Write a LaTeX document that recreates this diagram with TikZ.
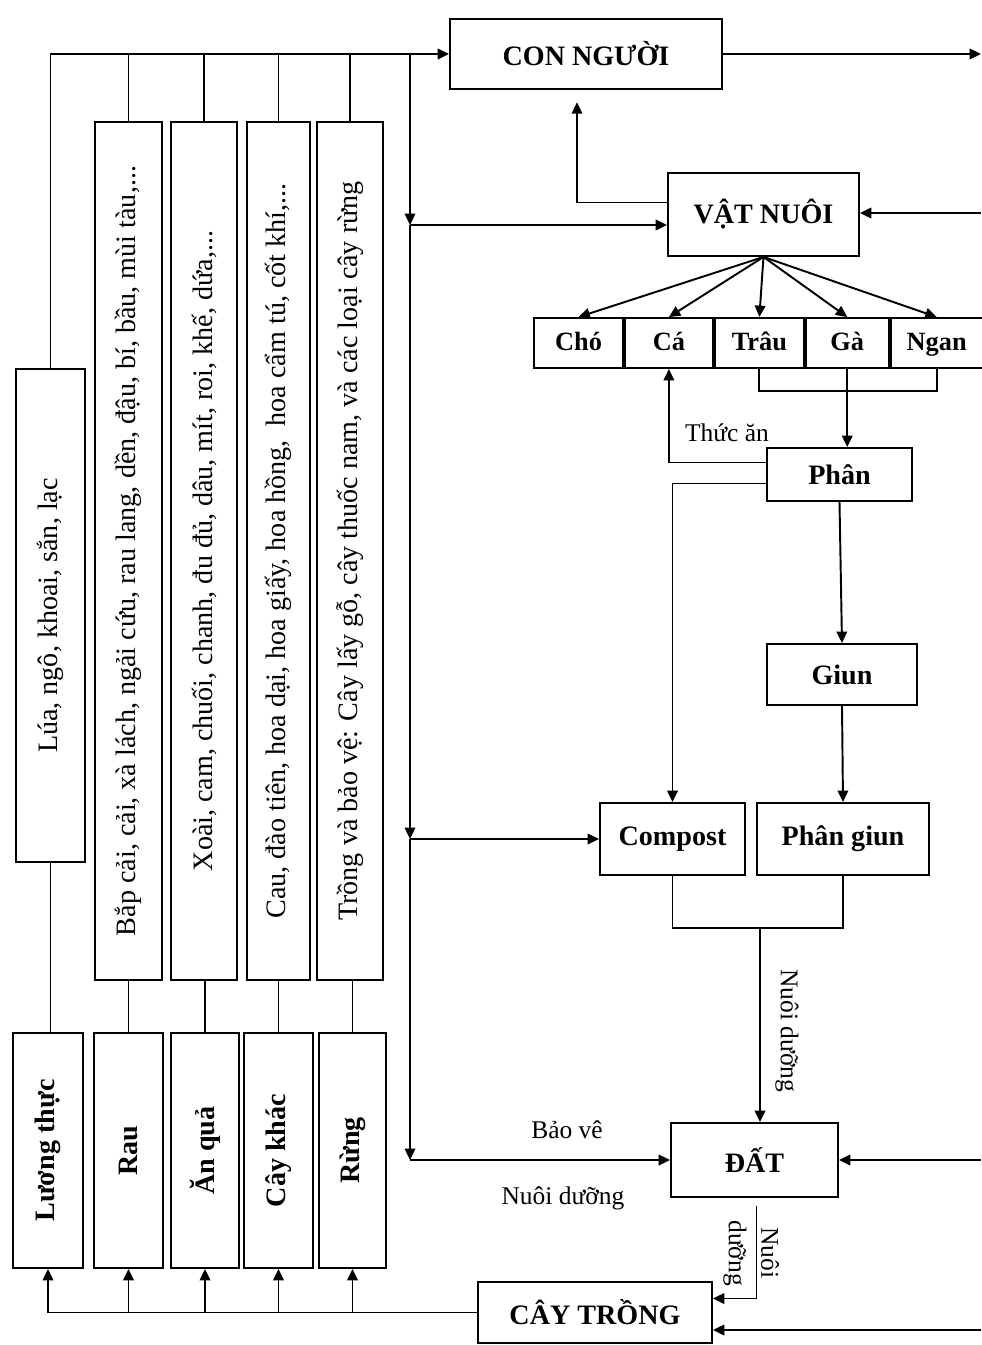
\documentclass[tikz,border=0pt]{standalone}
\usepackage{fontspec}
\setmainfont{Liberation Serif}
\usepackage{graphicx}
\usetikzlibrary{arrows.meta, positioning, calc}
\tikzset{
  box/.style={
    draw, line width=1.1pt, inner sep=0pt, align=center,
    font=\bfseries\fontsize{16}{19}\selectfont
  },
  kind/.style={
    box, minimum width=#1, minimum height=1.0cm,
    text height=11pt, text depth=3pt,
    font=\bfseries\fontsize{15}{18}\selectfont
  },
  listbox/.style={
    draw, line width=1.1pt, inner sep=0pt,
    minimum width=#1, minimum height=17.16cm,
    font=\fontsize{16}{19}\selectfont
  },
  listbox/.default=1.32cm,
  groupbox/.style={box, minimum width=#1, minimum height=4.7cm},
  tag/.style={font=\fontsize{14.5}{17}\selectfont, inner sep=1pt},
  link/.style={line width=1.1pt},
  darrow/.style={-{Triangle[length=6.5pt, width=6pt]}, line width=1.1pt}
}

\begin{document}
\begin{tikzpicture}[x=0.02cm, y=-0.02cm]
    \useasboundingbox (0,0) rectangle (981,1345);

    % right column
    \node[box, minimum width=5.44cm, minimum height=1.4cm] (con) at (586,54) {CON NGƯỜI};
    \node[box, minimum width=3.82cm, minimum height=1.66cm] (vn) at (763.5,214.5) {VẬT NUÔI};

    \node[kind=1.78cm] (cho) at (578.5,343) {Chó};
    \node[kind=1.76cm, right=0pt of cho] (ca) {Cá};
    \node[kind=1.78cm, right=0pt of ca] (trau) {Trâu};
    \node[kind=1.66cm, right=0pt of trau] (ga) {Gà};
    \node[kind=1.84cm, right=0pt of ga] (ngan) {Ngan};

    \node[box, minimum width=2.9cm, minimum height=1.06cm] (phan) at (839.5,474.5) {Phân};
    \node[box, minimum width=3.0cm, minimum height=1.22cm] (giun) at (842,674.5) {Giun};
    \node[box, minimum width=2.9cm, minimum height=1.44cm] (compost) at (672.5,839) {Compost};
    \node[box, minimum width=3.44cm, minimum height=1.44cm] (phangiun) at (843,839) {Phân giun};
    \node[box, minimum width=3.34cm, minimum height=1.48cm] (dat) at (754.5,1160) {ĐẤT};
    \node[box, minimum width=4.68cm, minimum height=1.22cm] (cay) at (595,1312.5) {CÂY TRỒNG};

    % left lists
    \node[listbox=1.38cm, minimum height=9.86cm] (lua) at (50.5,615.5)
      {\rotatebox{90}{Lúa, ngô, khoai, sắn, lạc}};
    \node[listbox=1.34cm] (bap) at (128.5,551)
      {\rotatebox{90}{Bắp cải, cải, xà lách, ngải cứu, rau lang, dền, đậu, bí, bầu, mùi tàu,...}};
    \node[listbox=1.32cm] (xoai) at (204,551)
      {\rotatebox{90}{Xoài, cam, chuối, chanh, đu đủ, dâu, mít, roi, khế, dứa,...}};
    \node[listbox=1.26cm] (caub) at (278.5,551)
      {\rotatebox{90}{Cau, đào tiên, hoa dại, hoa giấy, hoa hồng,\ \ hoa cẩm tú, cốt khí,...}};
    \node[listbox=1.32cm] (trong) at (350,551)
      {\rotatebox{90}{Trồng và bảo vệ: Cây lấy gỗ, cây thuốc nam, và các loại cây rừng}};

    \node[groupbox=1.4cm] (luong) at (48,1150.5) {\rotatebox{90}{Lương thực}};
    \node[groupbox=1.38cm] (rau) at (128.5,1150.5) {\rotatebox{90}{Rau}};
    \node[groupbox=1.36cm] (anqua) at (205,1150.5) {\rotatebox{90}{Ăn quả}};
    \node[groupbox=1.38cm] (caykhac) at (278.5,1150.5) {\rotatebox{90}{Cây khác}};
    \node[groupbox=1.34cm] (rung) at (352.5,1150.5) {\rotatebox{90}{Rừng}};

    % labels
    \node[tag] (thucan) at (727,433) {Thức ăn};
    \node[tag, rotate=-90] (nd1) at (787,1031) {Nuôi dưỡng};
    \node[tag] (baove) at (567,1130) {Bảo vê};
    \node[tag] (nd2) at (563,1198) {Nuôi dưỡng};
    \node[tag, rotate=-90] (nuoi) at (770,1253) {Nuôi};
    \node[tag, rotate=-90] (duong) at (735,1253) {dưỡng};

    % junctions and free ends
    \coordinate (jT) at (410,54);
    \coordinate (jV) at (410,225);
    \coordinate (jC) at (410,839);
    \coordinate (jD) at (410,1160);
    \coordinate (mix) at (760,927);
    \coordinate (rO) at (981,54);
    \coordinate (rV) at (981,213);
    \coordinate (rD) at (981,1160);
    \coordinate (rC) at (981,1330);

    % top bus
    \draw[darrow] (lua.north) |- (con.west);
    \foreach \n in {bap,xoai,caub,trong}
      \draw[link] (\n.north) -- (\n.north |- con.west);
    \draw[darrow] (jT) -- (jV);
    \draw[darrow] (jV) -- (jC);
    \draw[darrow] (jC) -- (jD);
    \draw[darrow] (jV) -- (jV -| vn.west);
    \draw[darrow] (jC) -- (compost.west);
    \draw[darrow] (jD) -- (dat.west);

    % right edge
    \draw[darrow] (con.east) -- (rO);
    \draw[darrow] (rV) -- (rV -| vn.east);
    \draw[darrow] (rD) -- (dat.east);
    \draw[darrow] (rC) -- (rC -| cay.east);

    % animals
    \draw[darrow, shorten >=7pt] ($(vn.west)+(0,-12)$) -| ($(con.south)+(-9,0)$);
    \foreach \n in {cho,ca,trau,ga,ngan}
      \draw[darrow] (vn.south) -- (\n.north);
    \draw[link] (trau.south) -- ++(0,22) -| (ngan.south);
    \draw[darrow] (ga.south) -- (ga.south |- phan.north);
    \draw[darrow] ($(phan.west)+(0,-12)$) -| (ca.south);
    \draw[darrow] ($(phan.west)+(0,9)$) -| (compost.north);
    \draw[darrow] (phan.south) -- (giun.north);
    \draw[darrow] (giun.south) -- (phangiun.north);
    \draw[link] (compost.south) -- ++(0,52) -| (phangiun.south);
    \draw[darrow] (mix) -- (mix |- dat.north);
    \draw[darrow] ($(dat.south)+(2,8)$) |- ($(cay.east)+(0,-14)$);

    % bottom bus
    \draw[darrow] (cay.west) -| (luong.south);
    \foreach \n in {rau,anqua,caykhac,rung}
      \draw[darrow] (\n.south |- cay.west) -- (\n.south);
    \draw[link] (lua.south) -- (lua.south |- luong.north);
    \foreach \a/\b in {rau/bap,anqua/xoai,caykhac/caub,rung/trong}
      \draw[link] (\a.north) -- (\a.north |- \b.south);
\end{tikzpicture}
\end{document}
